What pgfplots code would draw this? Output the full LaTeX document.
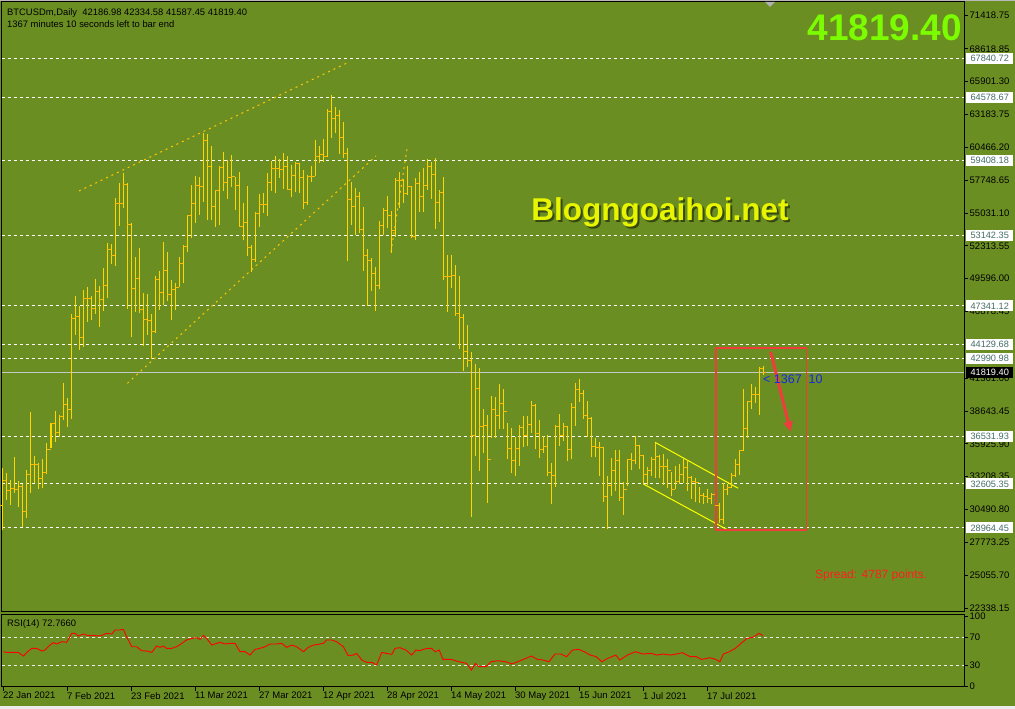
\documentclass[border=0pt]{standalone}
\usepackage{pgfplots}
\pgfplotsset{compat=1.18}
\usepackage{pgfplotstable}
\usepackage{fontspec}
\setmainfont{Liberation Sans}
\usetikzlibrary{arrows.meta}

\definecolor{bg}{RGB}{107,142,35}
\definecolor{barcol}{RGB}{255,215,0}
\definecolor{tickcol}{RGB}{255,185,0}
\definecolor{lvltxt}{RGB}{70,110,105}
\definecolor{boxred}{RGB}{240,60,60}
\definecolor{bignum}{RGB}{124,252,0}
\definecolor{blog}{RGB}{232,245,0}
\definecolor{chan}{RGB}{255,255,0}
\definecolor{trend}{RGB}{255,200,0}

\tikzset{lvlbox/.style={anchor=west, fill=white, text=lvltxt, inner sep=0pt, minimum width=47pt, minimum height=11pt, font=\fontsize{9.2}{10}\selectfont, xshift=2pt}}

\pgfplotstableread{
i o h l c
0 30800 33896 28792 32931
1 32931 33483 31275 32048
2 32048 32931 30862 32241
3 32241 34862 31827 32186
4 32186 32876 30724 32434
5 32434 32600 29068 30365
6 30365 33758 29758 33427
7 33427 38587 31882 34228
8 34228 34917 32710 34255
9 34255 34365 32158 33069
10 33069 34669 32241 33538
11 33538 36021 33427 35469
12 35469 37676 35552 37621
13 37621 38670 36104 36876
14 36876 38311 36517 38228
15 38228 40987 37897 39194
16 39194 39746 37290 38807
17 38807 46671 37952 46312
18 46312 48160 44932 46450
19 46450 47333 43691 44739
20 44739 48657 43912 47967
21 47967 48933 46036 47967
22 47967 48160 46174 47140
23 47140 49568 46671 48574
24 48574 49016 45622 47885
25 47885 50506 46947 49043
26 49043 52575 47967 52051
27 52051 52465 50782 51554
28 51554 56300 50644 55830
29 55830 57541 53982 55830
30 55830 58369 55417 57431
31 57431 57541 47057 54120
32 54120 54175 44794 48795
33 48795 51416 46864 49623
34 49623 52106 46726 47057
35 47057 48436 44022 46229
36 46229 48326 44932 46119
37 46119 46671 42918 45208
38 45208 49843 45070 49540
39 49540 50257 47002 48464
40 48464 52658 47416 50312
41 50312 51830 47774 48326
42 48326 49485 46174 48740
43 48740 49264 47002 48878
44 48878 51416 48933 50864
45 50864 52382 49209 52300
46 52300 54865 51775 54810
47 54810 57348 52934 55830
48 55830 58093 54230 57300
49 57300 57982 54865 57210
50 57210 61679 55968 61072
51 61072 61569 54451 58865
52 58865 60576 54451 55554
53 55554 56934 53899 56900
54 56900 58920 54037 58810
55 58810 60079 56879 57569
56 57569 59417 56161 57982
57 57982 59831 57210 58093
58 58093 57982 55279 57320
59 57320 58424 53899 53927
60 53927 55886 52795 54258
61 54258 57265 51499 52189
62 52189 52382 50174 51223
63 51223 55141 51002 55003
64 55003 56603 53844 55748
65 55748 56658 55003 55748
66 55748 58313 54782 57569
67 57569 59362 56879 58727
68 58727 59748 56713 58727
69 58727 59472 57900 58672
70 58672 60024 56989 58865
71 58865 59748 56989 56989
72 56989 59003 56327 58176
73 58176 59279 56796 59141
74 59141 59196 56658 57982
75 57982 58589 55334 55913
76 55913 58176 55692 58093
77 58093 58920 57624 58093
78 58093 61072 58093 59693
79 59693 60576 59141 59886
80 59886 61128 59279 59693
81 59693 63611 59693 63418
82 63418 64797 61210 62866
83 62866 63831 61624 63142
84 63142 63556 59914 61293
85 61293 62590 59555 59969
86 59969 60383 51085 56161
87 56161 57624 54037 55554
88 55554 57072 53209 56437
89 56437 56796 53402 53678
90 53678 55499 50257 51554
91 51554 52023 47333 51085
92 51085 51278 48602 50036
93 50036 50588 46946 49071
94 49071 54396 48712 54037
95 54037 55417 53209 55223
96 55223 56437 53761 54864
97 54864 55195 51691 53568
98 53568 57899 53071 57761
99 57761 58451 55416 57761
100 57761 57816 55830 56658
101 56658 58920 56520 57209
102 57209 57265 52933 53071
103 53071 57899 52795 57485
104 57485 58396 55140 56437
105 56437 58727 55140 57347
106 57347 59472 56933 58920
107 58920 59279 56161 58258
108 58258 59555 53678 55885
109 55885 56933 54312 56713
110 56713 57982 49484 49760
111 49760 51553 46863 49760
112 49760 51553 48794 49898
113 49898 50726 46504 46725
114 46725 49815 43745 46394
115 46394 46670 41980 43552
116 43552 45760 42256 42807
117 42807 43552 29840 36655
118 36655 42532 34917 40517
119 40517 42173 33703 37345
120 37345 38779 35193 37483
121 37483 38310 31054 34641
122 34641 39883 36379 38779
123 38779 39828 36379 38310
124 38310 40876 37124 39276
125 39276 40435 37124 38586
126 38586 37620 34641 35551
127 35551 37207 33537 34530
128 34530 36517 33261 35551
129 35551 37483 34089 37289
130 37289 38227 35634 36655
131 36655 38227 35744 37565
132 37565 39497 36848 39138
133 39138 39221 35468 36793
134 36793 37896 34724 35468
135 35468 36572 35137 35744
136 35744 36655 33261 33537
137 33537 34365 30944 33344
138 33344 37483 32323 37345
139 37345 38393 35744 36655
140 36655 37620 36186 37345
141 37345 37400 34530 35468
142 35468 39276 34641 38945
143 38945 40987 37400 40435
144 40435 41263 39414 40104
145 40104 40380 37952 38311
146 38311 39497 36462 38035
147 38035 38118 34807 35745
148 35745 36379 34807 35634
149 35634 36103 33262 35634
150 35634 35690 31137 31551
151 31551 33262 28847 32517
152 32517 34724 31606 33703
153 33703 35414 32048 34586
154 34586 35414 31220 31496
155 31496 32793 30034 32158
156 32158 34641 32434 34641
157 34641 35193 33758 34531
158 34531 36572 34255 35828
159 35828 35828 33813 35000
160 35000 35000 32600 33427
161 33427 33979 32517 33758
162 33758 34862 33300 34641
163 34641 36021 33069 34862
164 34862 35000 33069 34034
165 34034 35083 32517 34089
166 34089 34641 32241 33758
167 33758 33620 31606 32158
168 32158 34089 32158 32793
169 32793 34255 32600 33427
170 33427 34641 32710 33979
171 33979 34586 32048 33151
172 33151 33262 31330 32793
173 32793 33124 31137 32710
174 32710 32324 30999 31689
175 31689 31882 30944 31606
176 31606 32158 31054 31413
177 31413 31827 30944 31772
178 31772 31882 30447 30850
179 30850 30999 29344 29675
180 29675 32710 29300 32158
181 32158 32600 31700 32300
182 32300 33538 32300 33344
183 33344 34641 33206 34255
184 34255 35414 33344 35359
185 35359 40435 35300 37207
186 37207 39500 36400 39400
187 39400 40900 38800 40000
188 40000 40600 39300 40000
189 40000 42300 38300 42187
190 42186.98 42334.58 41587.45 41819.40
}\ohlc

\pgfplotstableread{
x r
0.08 50.0
0.9 49.0
2.6 49.0
3.8 49.0
5.1 43.8
5.9 48.6
7.2 54.8
8.4 54.8
9.7 51.0
10.5 52.4
11.75 59.5
12.6 62.9
13.4 61.0
14.7 64.3
15.9 63.3
17.2 76.2
18.0 76.2
18.8 72.4
20.1 75.2
21.3 72.9
22.6 73.3
23.8 72.4
24.7 73.3
25.9 76.2
27.2 75.2
28.0 81.0
29.25 81.0
30.1 81.9
30.9 71.4
32.2 57.1
33.4 57.1
34.7 51.4
35.9 51.0
37.2 49.0
38.4 58.1
39.25 56.2
40.1 58.1
40.9 54.8
42.2 54.8
43.4 57.1
44.7 61.9
45.9 66.7
47.2 69.0
48.4 70.0
49.25 67.6
50.1 73.3
50.9 69.0
52.2 59.5
53.4 61.9
54.25 63.3
55.5 61.0
56.75 61.9
58.0 61.9
59.25 50.0
60.5 50.0
61.75 45.2
63.0 53.3
64.25 54.8
65.5 57.1
66.75 61.0
68.4 61.0
69.7 61.9
70.9 56.2
72.2 59.5
73.4 57.1
75.1 50.0
76.3 56.2
77.6 59.5
78.8 60.5
80.1 61.9
80.9 66.7
82.2 66.7
83.4 64.3
85.1 57.1
86.3 44.3
87.6 45.2
88.4 47.6
89.7 38.1
90.9 34.8
92.2 34.8
93.4 31.0
94.7 49.0
95.9 47.6
97.2 46.2
98.0 54.8
99.25 55.7
100.7 52.4
102.2 45.2
103.2 52.4
104.2 51.4
105.1 53.3
106.1 54.8
107.1 54.8
108.1 50.0
109.05 52.4
110.0 39.0
112.0 39.0
114.0 35.7
115.9 33.3
117.1 23.8
118.1 33.3
118.9 28.6
120.8 28.6
122.0 35.7
123.8 37.1
125.7 35.7
127.2 32.4
128.7 35.7
130.1 39.0
132.1 43.8
133.6 39.0
135.0 38.1
136.5 35.7
138.0 46.7
139.45 46.7
140.9 42.9
142.4 52.4
143.9 53.3
145.3 50.0
146.8 45.2
148.3 42.9
149.7 35.7
151.2 40.5
153.2 45.2
154.2 38.1
156.1 45.2
158.1 50.0
160.0 46.7
162.0 47.6
163.5 45.2
164.9 46.7
166.9 45.2
168.4 46.7
169.8 48.6
171.8 42.9
173.3 42.9
174.7 39.0
176.7 41.4
178.2 39.0
179.2 35.7
180.1 46.7
181.6 50.0
183.1 54.8
184.5 61.9
186.0 69.0
187.5 70.5
189.0 76.2
190.0 72.77
}\rsi

\begin{document}
\begin{tikzpicture}[x=1pt,y=1pt]
\useasboundingbox (0,0) rectangle (1015,709);
\fill[bg] (0,0) rectangle (1015,709);
\fill[gray!55] (0,708) rectangle (1015,709);
\fill[gray!15] (0,0) rectangle (1015,3);

\pgfplotsset{
  every tick label/.append style={font=\fontsize{9.5}{11}\selectfont, text=black},
}

% ---------- main price panel ----------
\begin{axis}[
  at={(2pt,97pt)}, anchor=south west,
  width=962pt, height=610pt, scale only axis,
  xmin=-0.25, xmax=240.25, ymin=22005, ymax=72494,
  clip=false,
  axis line style={black, line width=1pt},
  xtick=\empty,
  ytick={71418.75,68618.85,65901.30,63183.75,60466.20,57748.65,55031.10,52313.55,49596.00,46878.45,41361.00,38643.45,35925.90,33208.35,30490.80,27773.25,25055.70,22338.15},
  yticklabels={71418.75,68618.85,65901.30,63183.75,60466.20,57748.65,55031.10,52313.55,49596.00,46878.45,41361.00,38643.45,35925.90,33208.35,30490.80,27773.25,25055.70,22338.15},
  ytick pos=right, yticklabel pos=right, tick align=outside,
  major tick length=4pt, tick style={black, line width=0.8pt},
  yticklabel style={inner sep=1.5pt},
]
% horizontal levels
\addplot[white, dash pattern=on 3pt off 3pt, line width=0.9pt] coordinates {(-0.25,67840.72) (240.25,67840.72)};
\addplot[white, dash pattern=on 3pt off 3pt, line width=0.9pt] coordinates {(-0.25,64578.67) (240.25,64578.67)};
\addplot[white, dash pattern=on 3pt off 3pt, line width=0.9pt] coordinates {(-0.25,59408.18) (240.25,59408.18)};
\addplot[white, dash pattern=on 3pt off 3pt, line width=0.9pt] coordinates {(-0.25,53142.35) (240.25,53142.35)};
\addplot[white, dash pattern=on 3pt off 3pt, line width=0.9pt] coordinates {(-0.25,47341.12) (240.25,47341.12)};
\addplot[white, dash pattern=on 3pt off 3pt, line width=0.9pt] coordinates {(-0.25,44129.68) (240.25,44129.68)};
\addplot[white, dash pattern=on 3pt off 3pt, line width=0.9pt] coordinates {(-0.25,42990.98) (240.25,42990.98)};
\addplot[white, dash pattern=on 3pt off 3pt, line width=0.9pt] coordinates {(-0.25,36531.93) (240.25,36531.93)};
\addplot[white, dash pattern=on 3pt off 3pt, line width=0.9pt] coordinates {(-0.25,32605.35) (240.25,32605.35)};
\addplot[white, dash pattern=on 3pt off 3pt, line width=0.9pt] coordinates {(-0.25,28964.45) (240.25,28964.45)};
% current price line
\addplot[gray!45, line width=1pt] coordinates {(-0.25,41819.40) (240.25,41819.40)};

% trend lines
\addplot[trend, dash pattern=on 2pt off 4pt, line width=1pt] coordinates {(19,56851) (86,67445)};
\addplot[trend, dash pattern=on 2pt off 4pt, line width=1pt] coordinates {(31.1,40934) (93.25,59748)};
\addplot[trend, dash pattern=on 2pt off 4pt, line width=1pt] coordinates {(97,51802) (101,60327)};
% channel
\addplot[chan, line width=1pt] coordinates {(163,36051) (183.8,32244)};
\addplot[chan, line width=1pt] coordinates {(160.1,32599) (180.9,28850)};

% OHLC bars
\addplot[only marks, mark=-, mark size=1.3pt,
  mark options={tickcol, line width=0.9pt, xshift=1.3pt},
  error bars/.cd, y dir=both, y explicit, error mark=none,
  error bar style={barcol, line width=1pt}]
  table[x=i, y=c, y error plus expr=\thisrow{h}-\thisrow{c}, y error minus expr=\thisrow{c}-\thisrow{l}] {\ohlc};
\addplot[only marks, mark=-, mark size=1.3pt,
  mark options={tickcol, line width=0.9pt, xshift=-1.3pt}]
  table[x=i, y=o] {\ohlc};

% red box and arrow
\draw[boxred, line width=1.6pt] (axis cs:178.25,43831) rectangle (axis cs:200.9,28792);
\draw[boxred, line width=3pt, -{Triangle[length=10pt,width=9pt]}] (axis cs:191.9,43550) -- (axis cs:196.9,36928);

% level labels
\node[lvlbox] at (axis cs:240.25,67840.72) {67840.72};
\node[lvlbox] at (axis cs:240.25,64578.67) {64578.67};
\node[lvlbox] at (axis cs:240.25,59408.18) {59408.18};
\node[lvlbox] at (axis cs:240.25,53142.35) {53142.35};
\node[lvlbox] at (axis cs:240.25,47341.12) {47341.12};
\node[lvlbox] at (axis cs:240.25,44129.68) {44129.68};
\node[lvlbox] at (axis cs:240.25,42990.98) {42990.98};
\node[lvlbox] at (axis cs:240.25,36531.93) {36531.93};
\node[lvlbox] at (axis cs:240.25,32605.35) {32605.35};
\node[lvlbox] at (axis cs:240.25,28964.45) {28964.45};
\node[lvlbox, fill=black, text=white] at (axis cs:240.25,41819.40) {41819.40};
\end{axis}

% ---------- RSI panel ----------
\begin{axis}[
  at={(2pt,22pt)}, anchor=south west,
  width=962pt, height=72pt, scale only axis,
  xmin=-0.25, xmax=240.25, ymin=-0.4, ymax=102.4,
  axis line style={black, line width=1pt},
  ytick={0,30,70,100}, yticklabels={0,30,70,100},
  ytick pos=right, yticklabel pos=right,
  xtick={0,16,32,48,64,80,96,112,128,144,160,176},
  xticklabels={22 Jan 2021,7 Feb 2021,23 Feb 2021,11 Mar 2021,27 Mar 2021,12 Apr 2021,28 Apr 2021,14 May 2021,30 May 2021,15 Jun 2021,1 Jul 2021,17 Jul 2021},
  xtick pos=bottom, tick align=outside,
  major tick length=4pt, tick style={black, line width=0.8pt},
  xticklabel style={anchor=north west, inner sep=1pt, xshift=-1pt},
  yticklabel style={inner sep=1.5pt},
]
\addplot[gray!15, dash pattern=on 3pt off 3pt, line width=0.8pt] coordinates {(-0.25,70) (240.25,70)};
\addplot[gray!15, dash pattern=on 3pt off 3pt, line width=0.8pt] coordinates {(-0.25,30) (240.25,30)};
\addplot[red, line width=0.9pt] table[x=x, y=r] {\rsi};
\end{axis}

% ---------- texts ----------
\node[anchor=base west, inner sep=0pt, font=\fontsize{9.4}{11}\selectfont] at (7,693) {BTCUSDm,Daily\ \ 42186.98 42334.58 41587.45 41819.40};
\node[anchor=base west, inner sep=0pt, font=\fontsize{9.4}{11}\selectfont] at (7,681) {1367 minutes 10 seconds left to bar end};
\node[anchor=base west, inner sep=0pt, font=\fontsize{9.4}{11}\selectfont] at (7,82) {RSI(14) 72.7660};
\node[anchor=base east, inner sep=0pt, text=bignum, font=\fontsize{37}{40}\selectfont\bfseries] at (962,668) {41819.40};
\node[anchor=base, inner sep=0pt, text=black!70!bg, opacity=0.7, font=\fontsize{31.5}{34}\selectfont\bfseries] at (662,486) {Blogngoaihoi.net};
\node[anchor=base, inner sep=0pt, text=blog, font=\fontsize{31.5}{34}\selectfont\bfseries] at (660,488) {Blogngoaihoi.net};
\node[anchor=base west, inner sep=0pt, text={rgb,255:red,20;green,40;blue,230}, font=\fontsize{12.5}{14}\selectfont] at (763,325) {<\ 1367\ \ 10};
\node[anchor=base west, inner sep=0pt, text={rgb,255:red,255;green,30;blue,30}, font=\fontsize{12}{14}\selectfont] at (815,130) {Spread: 4787 points.};
\fill[gray!60] (765,707) -- (775,707) -- (770,702) -- cycle;
\end{tikzpicture}
\end{document}
